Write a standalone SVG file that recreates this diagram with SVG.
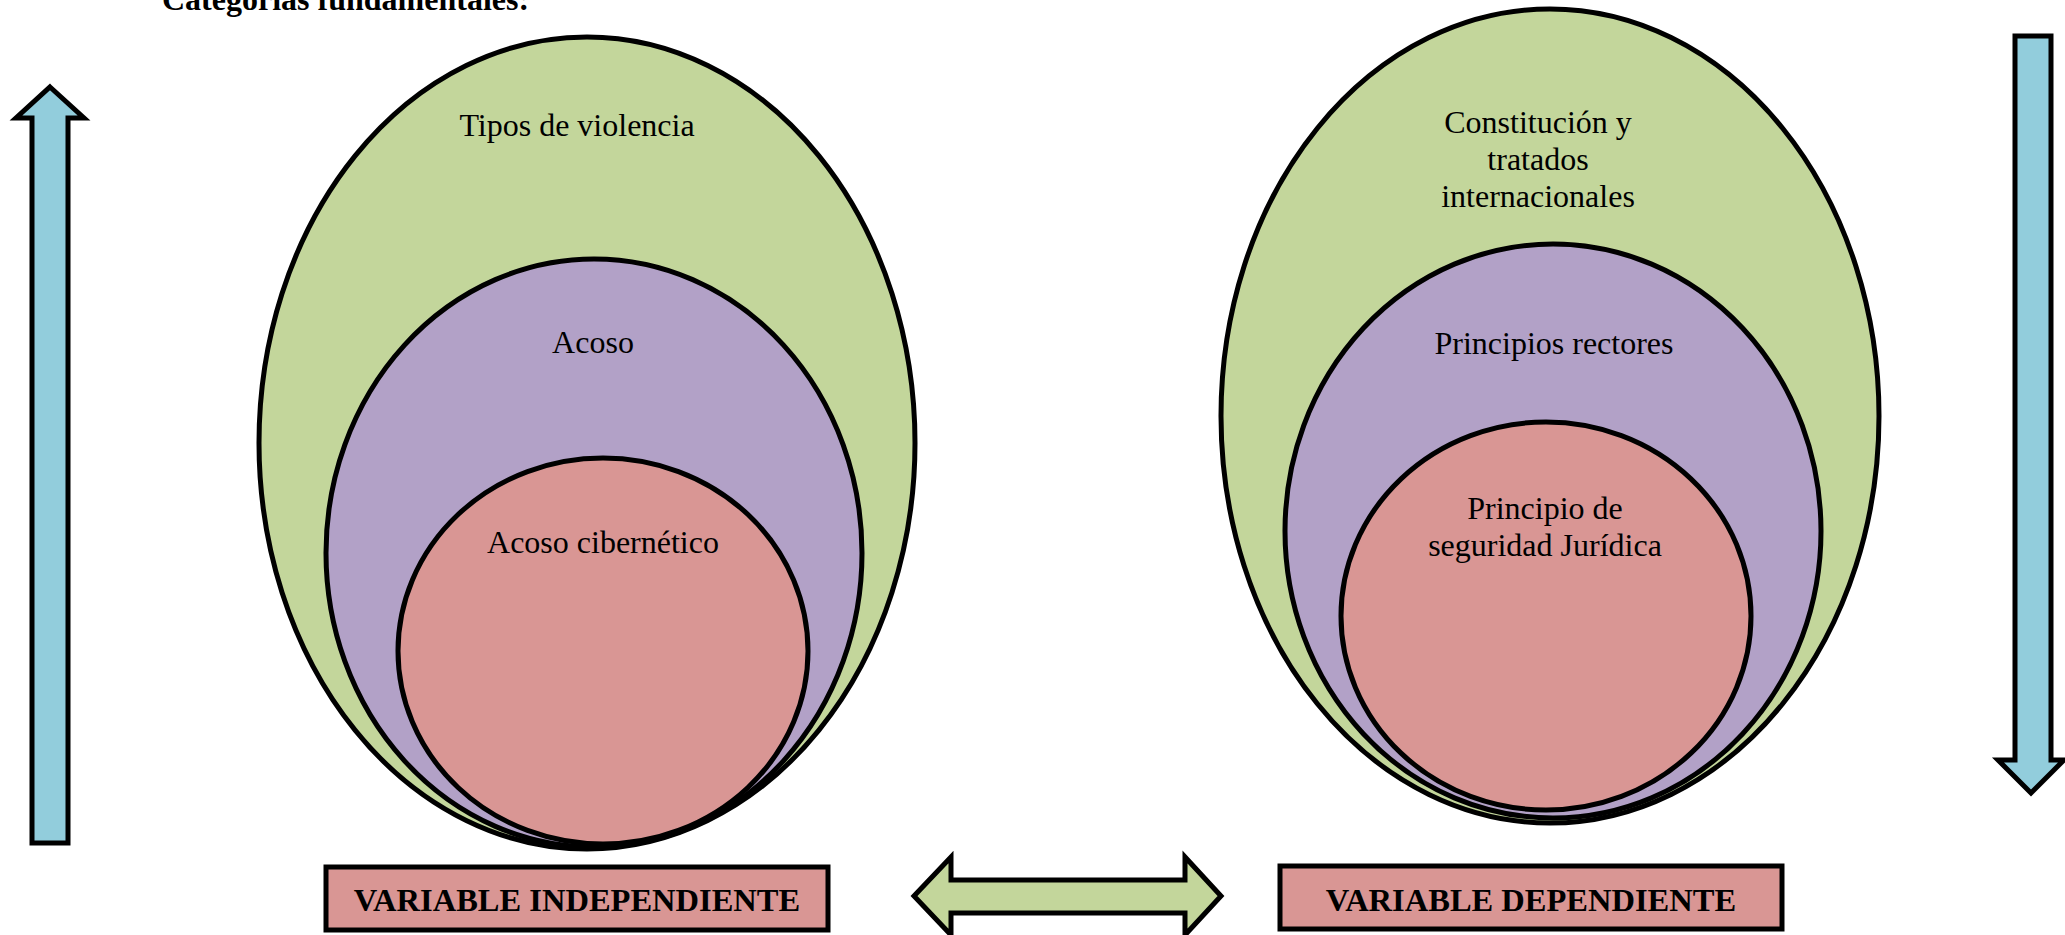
<svg xmlns="http://www.w3.org/2000/svg" width="2065" height="935" viewBox="0 0 2065 935">
<style>
.g{fill:#c3d69b;stroke:#000;stroke-width:5}
.p{fill:#b2a1c7;stroke:#000;stroke-width:5}
.r{fill:#d99694;stroke:#000;stroke-width:5}
.b{fill:#92cddc;stroke:#000;stroke-width:5}
.t{font-family:"Liberation Serif","Times New Roman",serif;font-size:32px;fill:#000;text-anchor:middle}
.tb{font-family:"Liberation Serif","Times New Roman",serif;font-size:32.5px;font-weight:bold;fill:#000;text-anchor:middle}
</style>
<rect width="2065" height="935" fill="#fff"/>
<text x="162" y="10" font-family="Liberation Serif, Times New Roman, serif" font-size="32" font-weight="bold">Categorías fundamentales:</text>

<g id="arrow-up">
<path class="b" d="M50,87 L84,118 L68,118 L68,843 L32,843 L32,118 L16,118 Z"/>
</g>
<g id="arrow-down">
<path class="b" d="M2015,36 L2051,36 L2051,760 L2064,760 L2031,793 L1998,760 L2015,760 Z"/>
</g>

<g id="left-set">
<g id="tipos-violencia">
<ellipse class="g" cx="587" cy="443" rx="328" ry="406"/>
<text class="t" x="577" y="136">Tipos de violencia</text>
</g>
<g id="acoso">
<ellipse class="p" cx="594" cy="553" rx="268" ry="294"/>
<text class="t" x="593" y="353">Acoso</text>
</g>
<g id="acoso-cibernetico">
<ellipse class="r" cx="603" cy="651" rx="205" ry="193"/>
<text class="t" x="603" y="553">Acoso cibernético</text>
</g>
</g>

<g id="right-set">
<g id="constitucion">
<ellipse class="g" cx="1550" cy="416" rx="329" ry="407"/>
<text class="t" x="1538" y="133">Constitución y</text>
<text class="t" x="1538" y="170">tratados</text>
<text class="t" x="1538" y="207">internacionales</text>
</g>
<g id="principios-rectores">
<ellipse class="p" cx="1553" cy="531" rx="268" ry="287"/>
<text class="t" x="1554" y="354">Principios rectores</text>
</g>
<g id="seguridad-juridica">
<ellipse class="r" cx="1546" cy="616" rx="205" ry="194"/>
<text class="t" x="1545" y="519">Principio de</text>
<text class="t" x="1545" y="556">seguridad Jurídica</text>
</g>
</g>

<g id="variable-independiente">
<rect class="r" x="326" y="867" width="502" height="63"/>
<text class="tb" x="577" y="911">VARIABLE INDEPENDIENTE</text>
</g>
<g id="variable-dependiente">
<rect class="r" x="1280" y="866" width="502" height="63"/>
<text class="tb" x="1531" y="911">VARIABLE DEPENDIENTE</text>
</g>

<g id="connectors">
<path class="g" d="M914,896 L951,857 L951,880 L1185,880 L1185,857 L1221,896 L1185,935 L1185,913 L951,913 L951,935 Z"/>
</g>
</svg>
